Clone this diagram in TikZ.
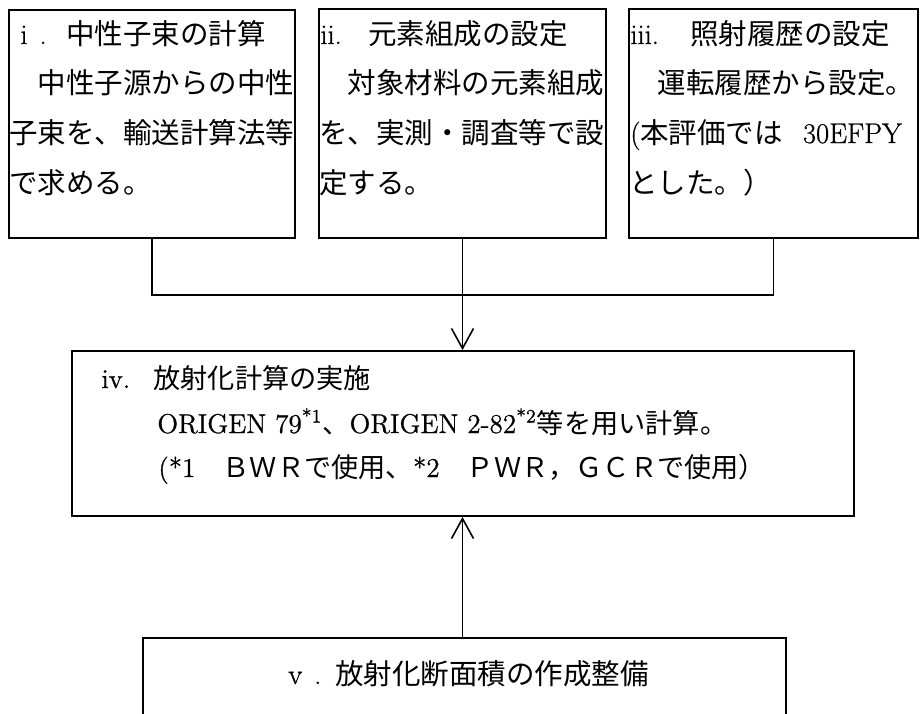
\documentclass[tikz,border=0pt]{standalone}
\usepackage{fontspec}
\setmainfont{Latin Modern Roman}[FakeBold=0.8]
\newfontfamily\jp{Noto Sans CJK JP}
\usetikzlibrary{arrows.meta,fit}
\newcommand\fA{\fontsize{14.25pt}{17pt}\selectfont}
\newcommand\fB{\fontsize{13.6pt}{16pt}\selectfont}
\begin{document}
\begin{tikzpicture}[x=0.5pt,y=-0.5pt,
  box/.style={draw, line width=0.9pt, inner sep=0pt},
  ln/.style={anchor=base west, inner sep=0pt, font=\fA},
  lnb/.style={anchor=base west, inner sep=0pt, font=\fB},
  conn/.style={line width=0.8pt},
  tip/.style={-{Straight Barb[length=10pt,width=11pt,line width=0.8pt]}}]
\useasboundingbox (0,0) rectangle (921,713);
\clip (0,0) rectangle (921,713);
% boxes
\node[box, fit={(9,10)(295,238)}] (b1) {};
\node[box, fit={(319,9)(606,238)}] (b2) {};
\node[box, fit={(629,9)(918,238)}] (b3) {};
\node[box, fit={(72,351)(854,516)}] (b4) {};
\node[box, fit={(143,638)(786,780)}] (b5) {};
% box i
\node[ln] (t11) at (9,44) {\makebox[28.5pt][l]{\hspace{5.5pt}i\hspace{6pt}.}{\jp 中性子束の計算}};
\node[ln] (t12) at (9,93) {\jp 　中性子源からの中性};
\node[ln] (t13) at (9,143) {\jp 子束を、輸送計算法等};
\node[ln] (t14) at (9,193) {\jp で求める。};
% box ii
\node[ln] (t21) at (319,44) {\makebox[24.5pt][l]{\hspace{0.5pt}ii.}{\jp 元素組成の設定}};
\node[ln] (t22) at (319,93) {\jp 　対象材料の元素組成};
\node[ln] (t23) at (319,143) {\jp を、実測・調査等で設};
\node[ln] (t24) at (319,193) {\jp 定する。};
% box iii
\node[ln] (t31) at (630,44) {\makebox[30pt][l]{iii.}{\jp 照射履歴の設定}};
\node[ln] (t32) at (629,93) {\jp 　運転履歴から設定。};
\node[ln] (t33) at (630,143) {({\jp 本評価では}\hspace{10pt}30EFPY};
\node[ln] (t34) at (629,193) {\jp とした。）};
% box iv
\node[lnb] (t41) at (101,388) {\makebox[26pt][l]{iv.}{\jp 放射化計算の実施}};
\node[lnb] (t42) at (157,433) {ORIGEN 79\textsuperscript{*1}{\jp 、}ORIGEN 2-82\textsuperscript{*2}{\jp 等を用い計算。}};
\node[lnb] (t43) at (158,477) {(*1{\jp 　ＢＷＲで使用、}*2{\jp 　ＰＷＲ，ＧＣＲで使用）}};
% box v
\node[ln] (t51) at (288,684) {\makebox[23.5pt][l]{v\hspace{6pt}.}{\jp 放射化断面積の作成整備}};
% connectors
\coordinate (j) at (462.5,295);
\draw[conn] (b1.south) |- (j) -| (b3.south);
\draw[conn] (b2.south) -- (j);
\draw[conn,tip] (j) -- (j |- b4.north);
\draw[conn,tip] (j |- b5.north) -- (j |- b4.south);
\end{tikzpicture}
\end{document}
